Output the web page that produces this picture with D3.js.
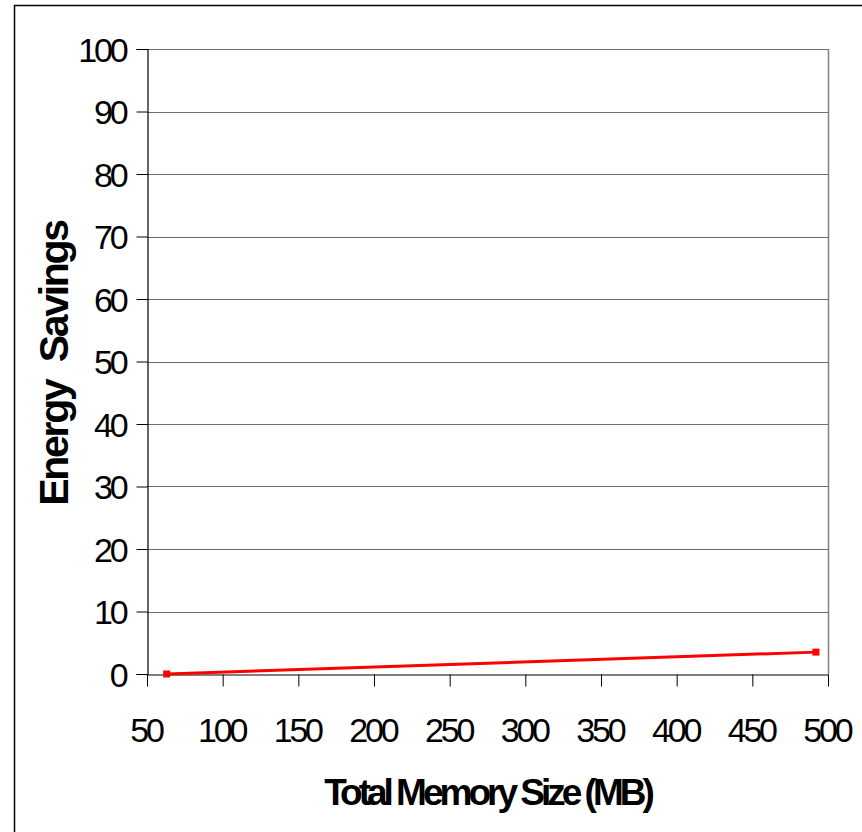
<!DOCTYPE html>
<html>
<head>
<meta charset="utf-8">
<script src="https://cdn.jsdelivr.net/npm/d3@7"></script>
<style>
  html, body { margin: 0; padding: 0; background: #fff; }
  svg { display: block; }
  text { font-family: "Liberation Sans", Arial, sans-serif; fill: #000; }
</style>
</head>
<body>
<svg id="chart" width="862" height="832"></svg>
<script>
// Data
const memorySizes = [63, 492];          // Total Memory Size (MB)
const energySavings = [0, 3.5];         // Energy Savings
const xTicks = [50, 100, 150, 200, 250, 300, 350, 400, 450, 500];
const yTicks = [0, 10, 20, 30, 40, 50, 60, 70, 80, 90, 100];
const xTitle = "Total Memory Size (MB)";
const yTitle = "Energy  Savings";

(function () {
const svg = d3.select("#chart");
const W = 862, H = 832;
const pL = 147, pR = 828, pT = 49, pB = 674;

svg.append("rect").attr("width", W).attr("height", H).attr("fill", "#fff");

// Outer border
svg.append("rect")
  .attr("x", 14.5).attr("y", 5.5)
  .attr("width", W + 10).attr("height", H + 10)
  .attr("fill", "none").attr("stroke", "#000").attr("stroke-width", 1.5);

const x = d3.scaleLinear().domain([50, 500]).range([pL, pR]);
const y = d3.scaleLinear().domain([0, 100]).range([pB, pT]);

// Gridlines
svg.append("g").selectAll("line").data(yTicks.filter(d => d > 0)).join("line")
  .attr("x1", pL).attr("x2", pR)
  .attr("y1", d => Math.round(y(d)) + 0.5).attr("y2", d => Math.round(y(d)) + 0.5)
  .attr("stroke", "#6e6e6e").attr("stroke-width", 1);

// Right border of plot area
svg.append("line")
  .attr("x1", pR + 0.5).attr("x2", pR + 0.5)
  .attr("y1", pT).attr("y2", pB)
  .attr("stroke", "#808080").attr("stroke-width", 1.5);

// Y axis
const yAxis = svg.append("g")
  .attr("transform", `translate(${pL + 0.5},0)`)
  .call(d3.axisLeft(y).tickValues(yTicks).tickSize(11).tickPadding(11).tickFormat(d3.format("d")));
yAxis.select(".domain").attr("stroke", "#000").attr("stroke-width", 1.2);
yAxis.selectAll(".tick line").attr("stroke", "#000");
yAxis.selectAll(".tick text")
  .attr("font-size", 34).attr("letter-spacing", -3.2)
  .attr("font-family", "Liberation Sans, Arial, sans-serif")
  .attr("dy", "0.36em");

// X axis
const xAxis = svg.append("g")
  .attr("transform", `translate(0,${pB + 0.5})`)
  .call(d3.axisBottom(x).tickValues(xTicks).tickSizeInner(12).tickSizeOuter(0).tickPadding(0).tickFormat(d3.format("d")));
xAxis.select(".domain").attr("stroke", "#000").attr("stroke-width", 1.2);
xAxis.selectAll(".tick line").attr("stroke", "#000");
xAxis.selectAll(".tick text")
  .attr("font-size", 34).attr("letter-spacing", -3.2)
  .attr("font-family", "Liberation Sans, Arial, sans-serif")
  .attr("y", 67.5).attr("dy", 0).attr("dx", -1.6);

// Line
const pts = memorySizes.map((m, i) => [m, energySavings[i]]);
svg.append("path")
  .datum(pts)
  .attr("fill", "none").attr("stroke", "#ff0000").attr("stroke-width", 3)
  .attr("d", d3.line().x(d => x(d[0])).y(d => y(d[1])));

svg.append("g").selectAll("rect").data(pts).join("rect")
  .attr("x", d => x(d[0]) - 3.5).attr("y", d => y(d[1]) - 3.5)
  .attr("width", 7).attr("height", 7)
  .attr("fill", "#ff0000");

// Titles
svg.append("text")
  .attr("x", (pL + pR) / 2).attr("y", 805)
  .attr("text-anchor", "middle")
  .attr("font-size", 37).attr("font-weight", "bold").attr("letter-spacing", -4.0)
  .text(xTitle);

svg.append("text")
  .attr("transform", `translate(68,${(pT + pB) / 2 + 2}) rotate(-90)`)
  .attr("text-anchor", "middle")
  .attr("font-size", 41).attr("font-weight", "bold").attr("letter-spacing", -2.3)
  .style("white-space", "pre")
  .text(yTitle);
})();
</script>
</body>
</html>
